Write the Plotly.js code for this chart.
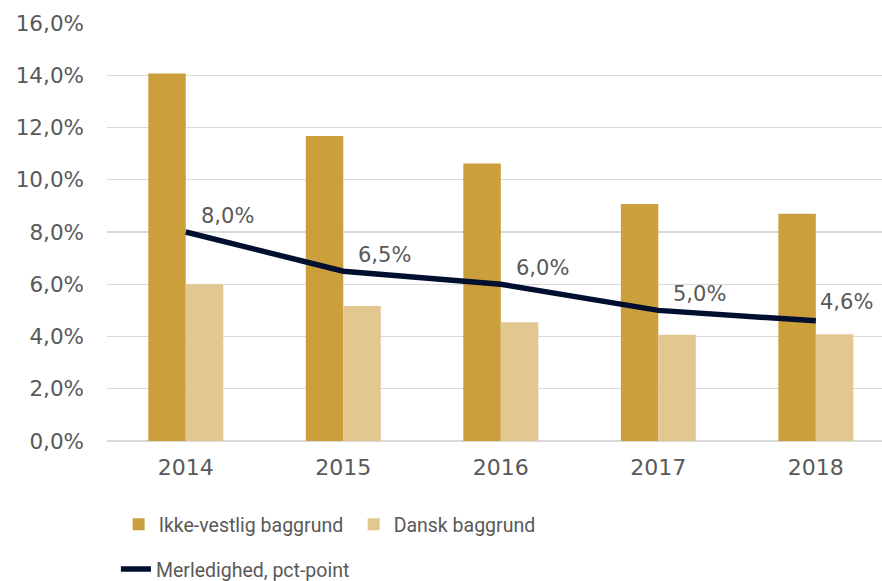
<!DOCTYPE html>
<html>
<head>
<meta charset="utf-8">
<script src="https://cdn.plot.ly/plotly-3.0.1.min.js"></script>
<style>html,body{margin:0;padding:0;background:#fff;}#chart{width:882px;height:581px;}</style>
</head>
<body>
<div id="chart"></div>
<script>
var years = ["2014", "2015", "2016", "2017", "2018"];
var ikkeVestlig = [14.07, 11.67, 10.62, 9.07, 8.70];
var dansk = [6.0, 5.17, 4.55, 4.07, 4.09];
var merledighed = [8.0, 6.5, 6.0, 5.0, 4.6];
var yTicks = [0, 2, 4, 6, 8, 10, 12, 14, 16];

function fmt(v) { return v.toFixed(1).replace(".", ",") + "%"; }

var textColor = "#595959";
var yTickFont = {family: "DejaVu Sans, sans-serif", size: 21.5, color: textColor};
var xTickFont = {family: "DejaVu Sans, sans-serif", size: 22, color: textColor};
var labelFont = {family: "DejaVu Sans, sans-serif", size: 21, color: textColor};
var legendFont = {family: "Roboto, sans-serif", size: 19.5, color: textColor};

var traces = [
  {type: "bar", name: "Ikke-vestlig baggrund", x: years, y: ikkeVestlig,
   marker: {color: "#CBA03C"}, legend: "legend", hoverinfo: "skip"},
  {type: "bar", name: "Dansk baggrund", x: years, y: dansk,
   marker: {color: "#E2C890"}, legend: "legend", hoverinfo: "skip"},
  {type: "scatter", mode: "lines", name: "Merledighed, pct-point", x: years, y: merledighed,
   line: {color: "#000F30", width: 5.5}, legend: "legend2", hoverinfo: "skip"}
];

var annotations = merledighed.map(function (v, i) {
  var last = (i === merledighed.length - 1);
  return {x: i, y: v, xref: "x", yref: "y", text: fmt(v),
          showarrow: false, xanchor: "left", yanchor: "middle",
          xshift: last ? 2 : 13, yshift: last ? 19 : 16,
          font: labelFont};
});

var layout = {
  width: 882, height: 581,
  margin: {l: 107, r: 0, t: 23, b: 140, autoexpand: false},
  paper_bgcolor: "#fff", plot_bgcolor: "#fff",
  separators: ",.",
  barmode: "group", bargap: 0.524, bargroupgap: 0,
  showlegend: true,
  xaxis: {type: "category", range: [-0.5, 4.42], showgrid: false, zeroline: false,
          showline: false, ticks: "", tickfont: xTickFont, ticklabelstandoff: 11, fixedrange: true},
  yaxis: {range: [0, 16], tickvals: yTicks, ticktext: yTicks.map(fmt), showgrid: true,
          gridcolor: "#D9D9D9", gridwidth: 1.3, zeroline: true, zerolinecolor: "#D9D9D9",
          zerolinewidth: 1.5, showline: false, ticks: "", tickfont: yTickFont,
          ticklabelstandoff: 22, fixedrange: true},
  legend: {orientation: "h", x: 0.015, y: -0.2, xanchor: "left", yanchor: "middle",
           font: legendFont, bgcolor: "rgba(0,0,0,0)", entrywidth: 190, entrywidthmode: "pixels"},
  legend2: {orientation: "h", x: 0.0115, y: -0.307, xanchor: "left", yanchor: "middle",
           font: legendFont, bgcolor: "rgba(0,0,0,0)"},
  annotations: annotations
};

Plotly.newPlot("chart", traces, layout, {displayModeBar: false, staticPlot: true});
</script>
</body>
</html>
